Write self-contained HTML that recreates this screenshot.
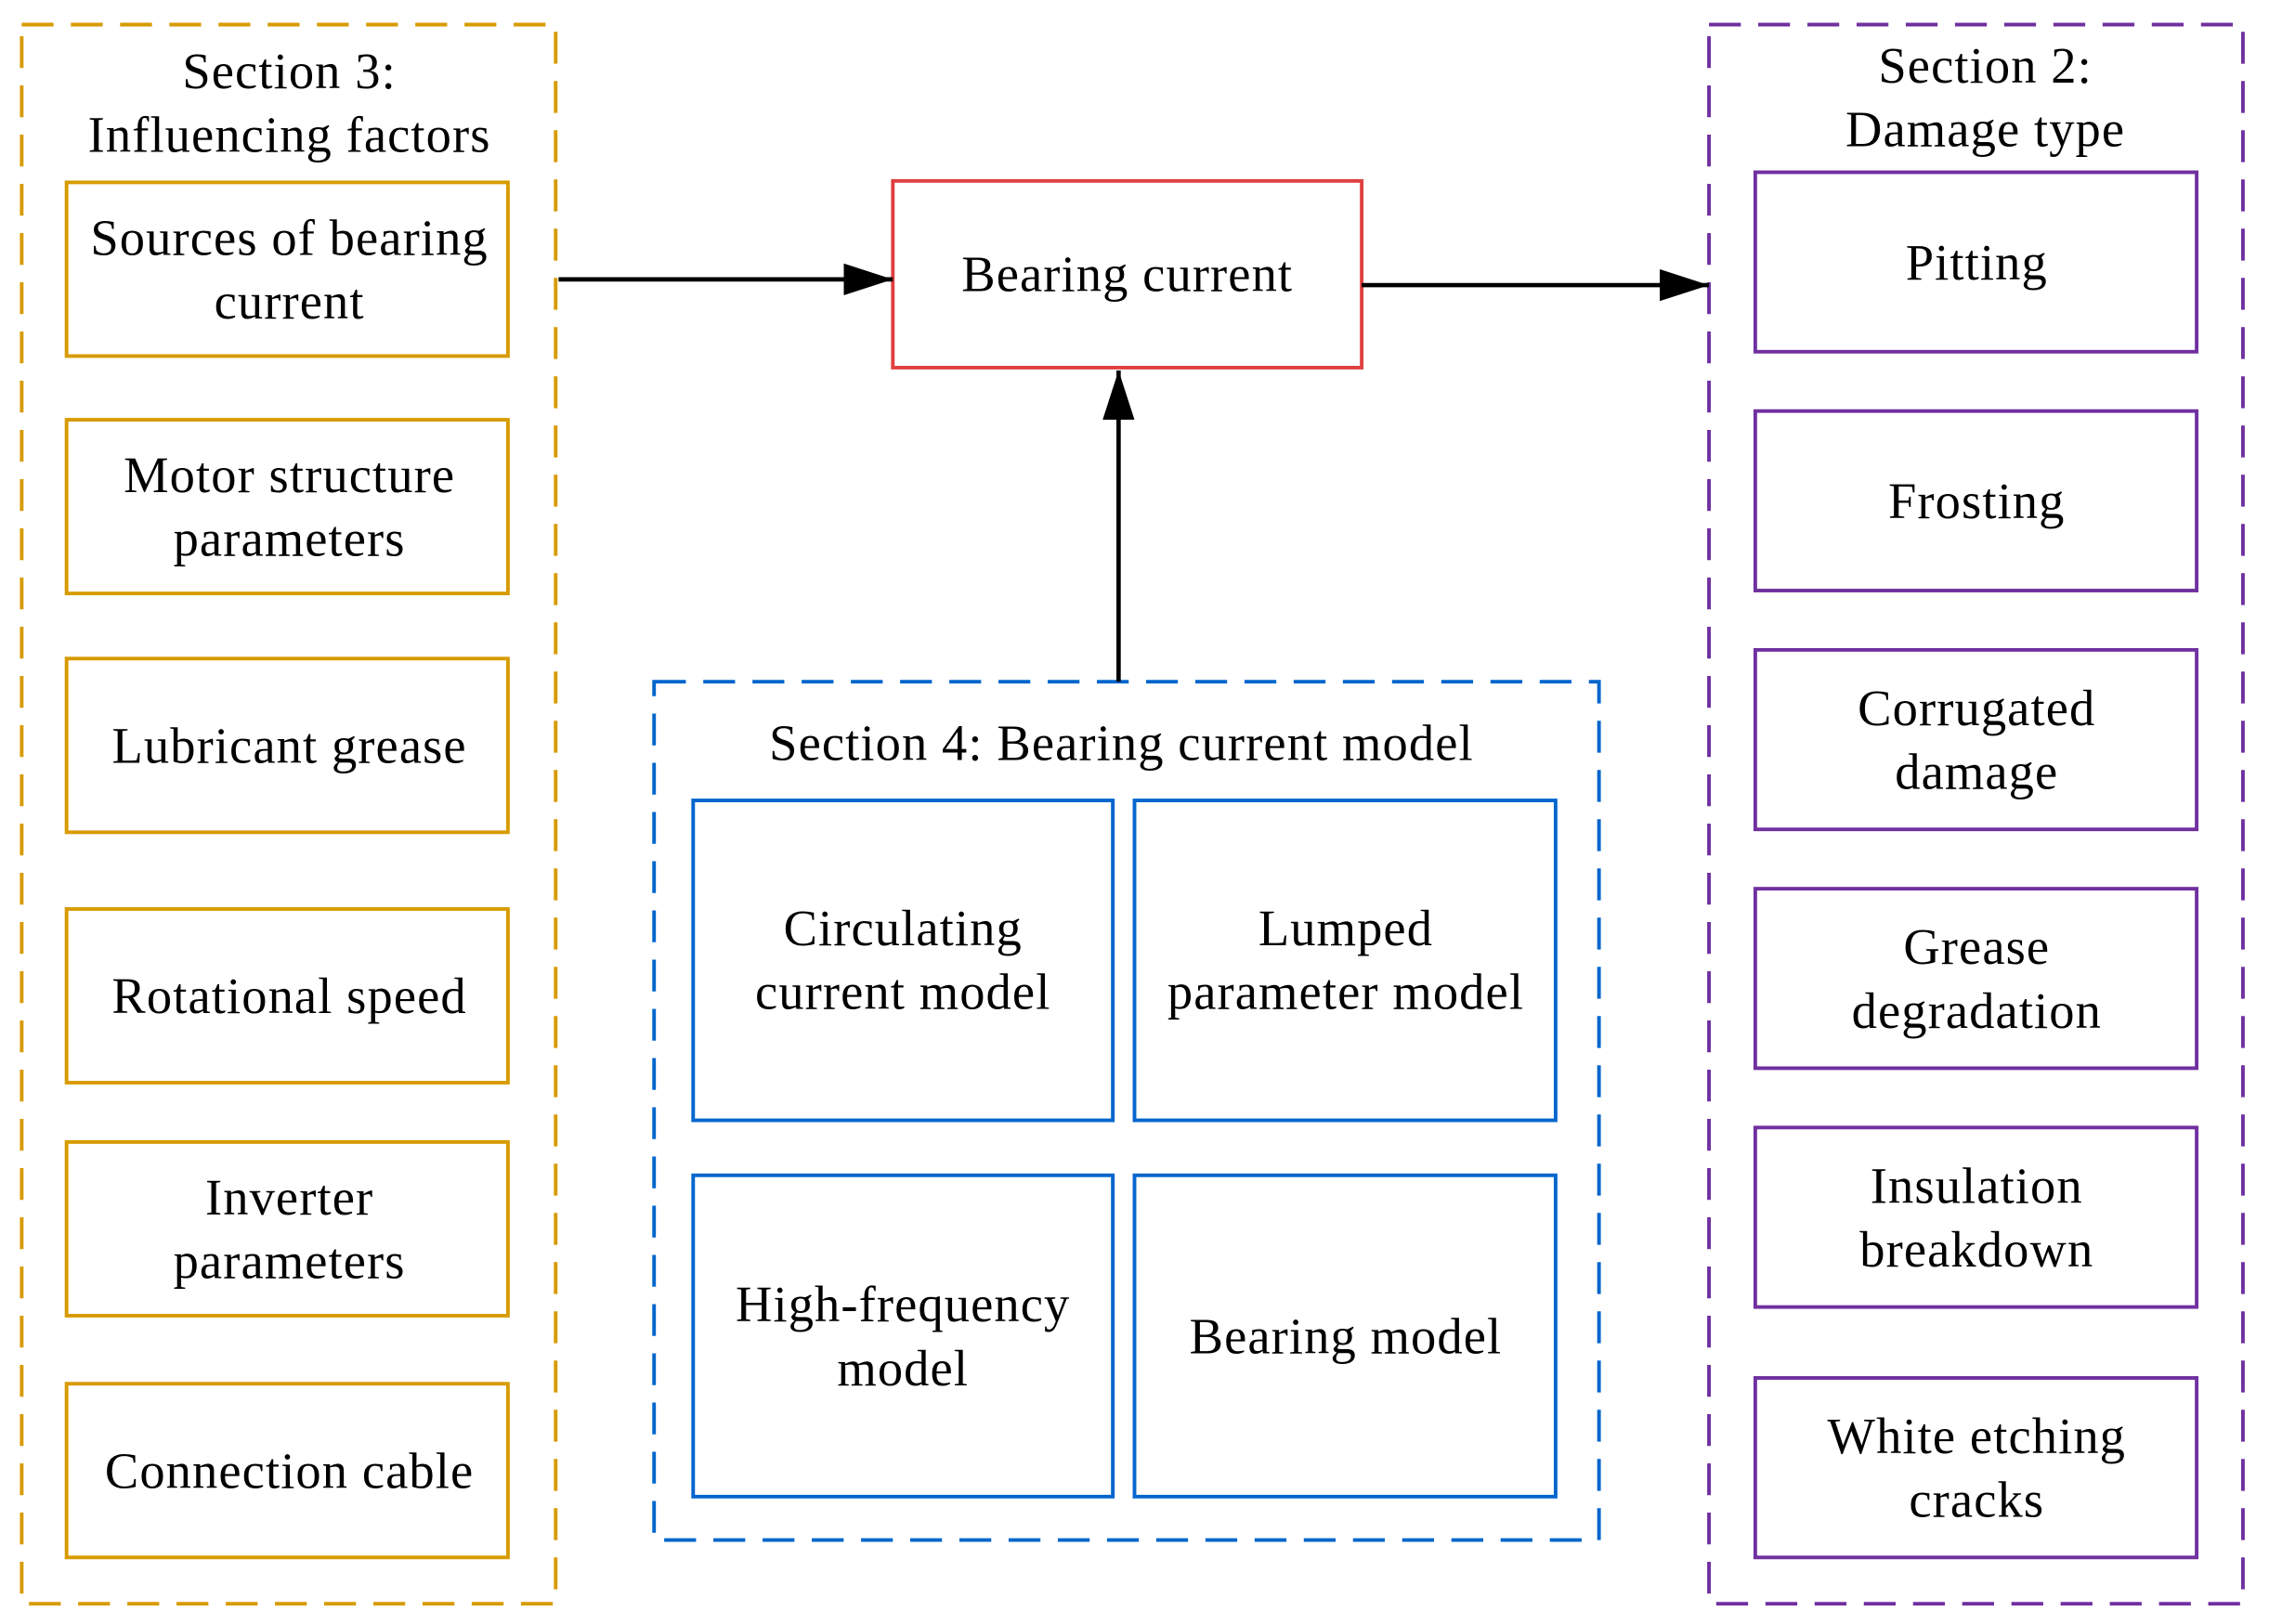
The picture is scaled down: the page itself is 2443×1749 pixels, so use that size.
<!DOCTYPE html>
<html><head><style>html,body{margin:0;padding:0;background:#fff}svg{display:block}</style></head>
<body>
<svg width="2443" height="1749" viewBox="0 0 1568 1122" preserveAspectRatio="none" xmlns="http://www.w3.org/2000/svg" font-family="Liberation Serif, serif" font-size="35" letter-spacing="0.7" text-anchor="middle">
<defs>
<marker id="b" viewBox="0 0 34 22" markerWidth="34" markerHeight="22" refX="34" refY="11" orient="auto" markerUnits="userSpaceOnUse"><path d="M0,0L34,11L0,22z" fill="#000"/></marker></defs>
<g fill="none" stroke-width="2.5">
<rect x="15" y="17" width="369" height="1091" stroke="#D79B00" stroke-dasharray="22,12"/>
<rect x="1181" y="17" width="369" height="1091" stroke="#7030A0" stroke-dasharray="22,12"/>
<rect x="452" y="471" width="653" height="593" stroke="#0066CC" stroke-dasharray="22,12"/>
<g stroke="#D79B00"><rect x="46" y="126" width="305" height="120"/><rect x="46" y="290" width="305" height="120"/><rect x="46" y="455" width="305" height="120"/><rect x="46" y="628" width="305" height="120"/><rect x="46" y="789" width="305" height="120"/><rect x="46" y="956" width="305" height="120"/></g>
<g stroke="#7030A0"><rect x="1213" y="119" width="305" height="124"/><rect x="1213" y="284" width="305" height="124"/><rect x="1213" y="449" width="305" height="124"/><rect x="1213" y="614" width="305" height="124"/><rect x="1213" y="779" width="305" height="124"/><rect x="1213" y="952" width="305" height="124"/></g>
<g stroke="#0066CC"><rect x="479" y="553" width="290" height="221"/><rect x="784" y="553" width="291" height="221"/><rect x="479" y="812" width="290" height="222"/><rect x="784" y="812" width="291" height="222"/></g>
<rect x="617" y="125" width="324" height="129" stroke="#E04040"/>
<g stroke="#000" stroke-width="3"><line x1="386" y1="193" x2="617" y2="193" marker-end="url(#b)"/><line x1="941" y1="197" x2="1181" y2="197" marker-end="url(#b)"/><line x1="773" y1="471" x2="773" y2="256" marker-end="url(#b)"/></g>
</g>
<g fill="#000">
<text x="200" y="61">Section 3:</text><text x="200" y="105">Influencing factors</text>
<text x="200" y="176">Sources of bearing</text><text x="200" y="220">current</text>
<text x="200" y="340">Motor structure</text><text x="200" y="384">parameters</text>
<text x="200" y="527">Lubricant grease</text>
<text x="200" y="700">Rotational speed</text>
<text x="200" y="839">Inverter</text><text x="200" y="883">parameters</text>
<text x="200" y="1028">Connection cable</text>
<text x="779" y="201">Bearing current</text>
<text x="1372" y="57">Section 2:</text><text x="1372" y="101">Damage type</text>
<text x="1366" y="193">Pitting</text>
<text x="1366" y="358">Frosting</text>
<text x="1366" y="501">Corrugated</text><text x="1366" y="545">damage</text>
<text x="1366" y="666">Grease</text><text x="1366" y="710">degradation</text>
<text x="1366" y="831">Insulation</text><text x="1366" y="875">breakdown</text>
<text x="1366" y="1004">White etching</text><text x="1366" y="1048">cracks</text>
<text x="775" y="525">Section 4: Bearing current model</text>
<text x="624" y="653">Circulating</text><text x="624" y="697">current model</text>
<text x="930" y="653">Lumped</text><text x="930" y="697">parameter model</text>
<text x="624" y="913">High-frequency</text><text x="624" y="957">model</text>
<text x="930" y="935">Bearing model</text>
</g>
</svg>
</body></html>
